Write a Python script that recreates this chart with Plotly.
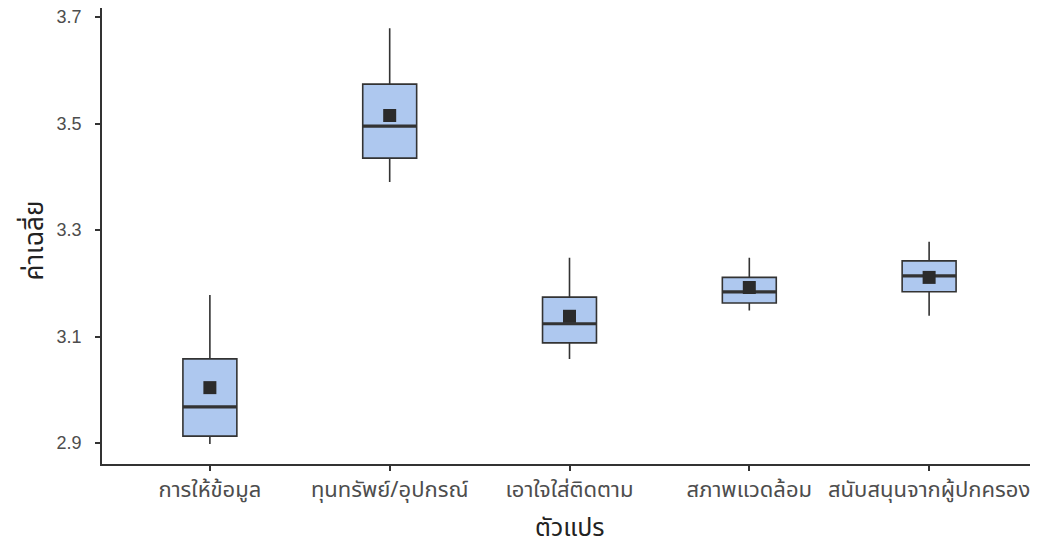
import plotly.graph_objects as go

categories = ["การให้ข้อมูล", "ทุนทรัพย์/อุปกรณ์", "เอาใจใส่ติดตาม", "สภาพแวดล้อม", "สนับสนุนจากผู้ปกครอง"]
lower_whisker = [2.898, 3.390, 3.058, 3.149, 3.139]
q1_values = [2.913, 3.435, 3.088, 3.163, 3.184]
medians = [2.968, 3.495, 3.124, 3.184, 3.214]
q3_values = [3.058, 3.574, 3.174, 3.211, 3.242]
upper_whisker = [3.178, 3.679, 3.248, 3.248, 3.278]
means = [3.004, 3.515, 3.138, 3.192, 3.211]
y_ticks = [2.9, 3.1, 3.3, 3.5, 3.7]

fig = go.Figure()
fig.add_trace(go.Box(
    x=categories,
    q1=q1_values, median=medians, q3=q3_values,
    lowerfence=lower_whisker, upperfence=upper_whisker,
    fillcolor="#AEC8EF",
    line=dict(color="#333333", width=1.6),
    whiskerwidth=0,
    width=0.3,
    boxpoints=False,
    showlegend=False,
    hoverinfo="skip",
))
# thicker median line (ggplot style)
fig.add_trace(go.Box(
    x=categories,
    q1=medians, median=medians, q3=medians,
    lowerfence=medians, upperfence=medians,
    fillcolor="rgba(0,0,0,0)",
    line=dict(color="#333333", width=3.2),
    whiskerwidth=0,
    width=0.3,
    boxpoints=False,
    showlegend=False,
    hoverinfo="skip",
))
fig.add_trace(go.Scatter(
    x=categories, y=means, mode="markers",
    marker=dict(symbol="square", size=13, color="#2b2b2b"),
    showlegend=False,
))

thai_font = "Noto Sans Thai, Loma, Garuda, Tlwg Typo, sans-serif"
# page has an 8px body margin, so the figure is sized to fit the window
fig.update_layout(
    width=1030, height=538,
    margin=dict(l=94, r=1, t=0, b=82),
    paper_bgcolor="white", plot_bgcolor="white",
    font=dict(family=thai_font, color="#4d4d4d", size=16),
    boxmode="overlay",
)
fig.update_xaxes(
    type="category", range=[-0.6, 4.6], automargin=False,
    showline=True, linecolor="#333333", linewidth=1.6,
    ticks="outside", ticklen=5, tickcolor="#333333", tickwidth=1.6,
    showgrid=False, zeroline=False, ticklabeloverflow="allow",
    tickfont=dict(size=22, color="#4d4d4d", family=thai_font),
)
fig.update_yaxes(
    range=[2.8606, 3.7169], automargin=False,
    tickvals=y_ticks, ticktext=[f"{v:.1f}\u00a0\u00a0" for v in y_ticks],
    showline=True, linecolor="#333333", linewidth=1.6,
    ticks="outside", ticklen=5, tickcolor="#333333", tickwidth=1.6,
    showgrid=False, zeroline=False, ticklabeloverflow="allow",
    tickfont=dict(size=18, color="#4d4d4d", family="Liberation Sans, Arial, sans-serif"),
)
fig.add_annotation(
    text="ตัวแปร", xref="paper", yref="paper", x=0.5, y=-0.14,
    xanchor="center", yanchor="middle", showarrow=False,
    font=dict(size=25, color="#222222", family=thai_font),
)
fig.add_annotation(
    text="ค่าเฉลี่ย", xref="paper", yref="paper", x=-0.0717, y=0.49,
    xanchor="center", yanchor="middle", showarrow=False, textangle=-90,
    font=dict(size=26, color="#222222", family=thai_font),
)

fig.write_html("out.html")
